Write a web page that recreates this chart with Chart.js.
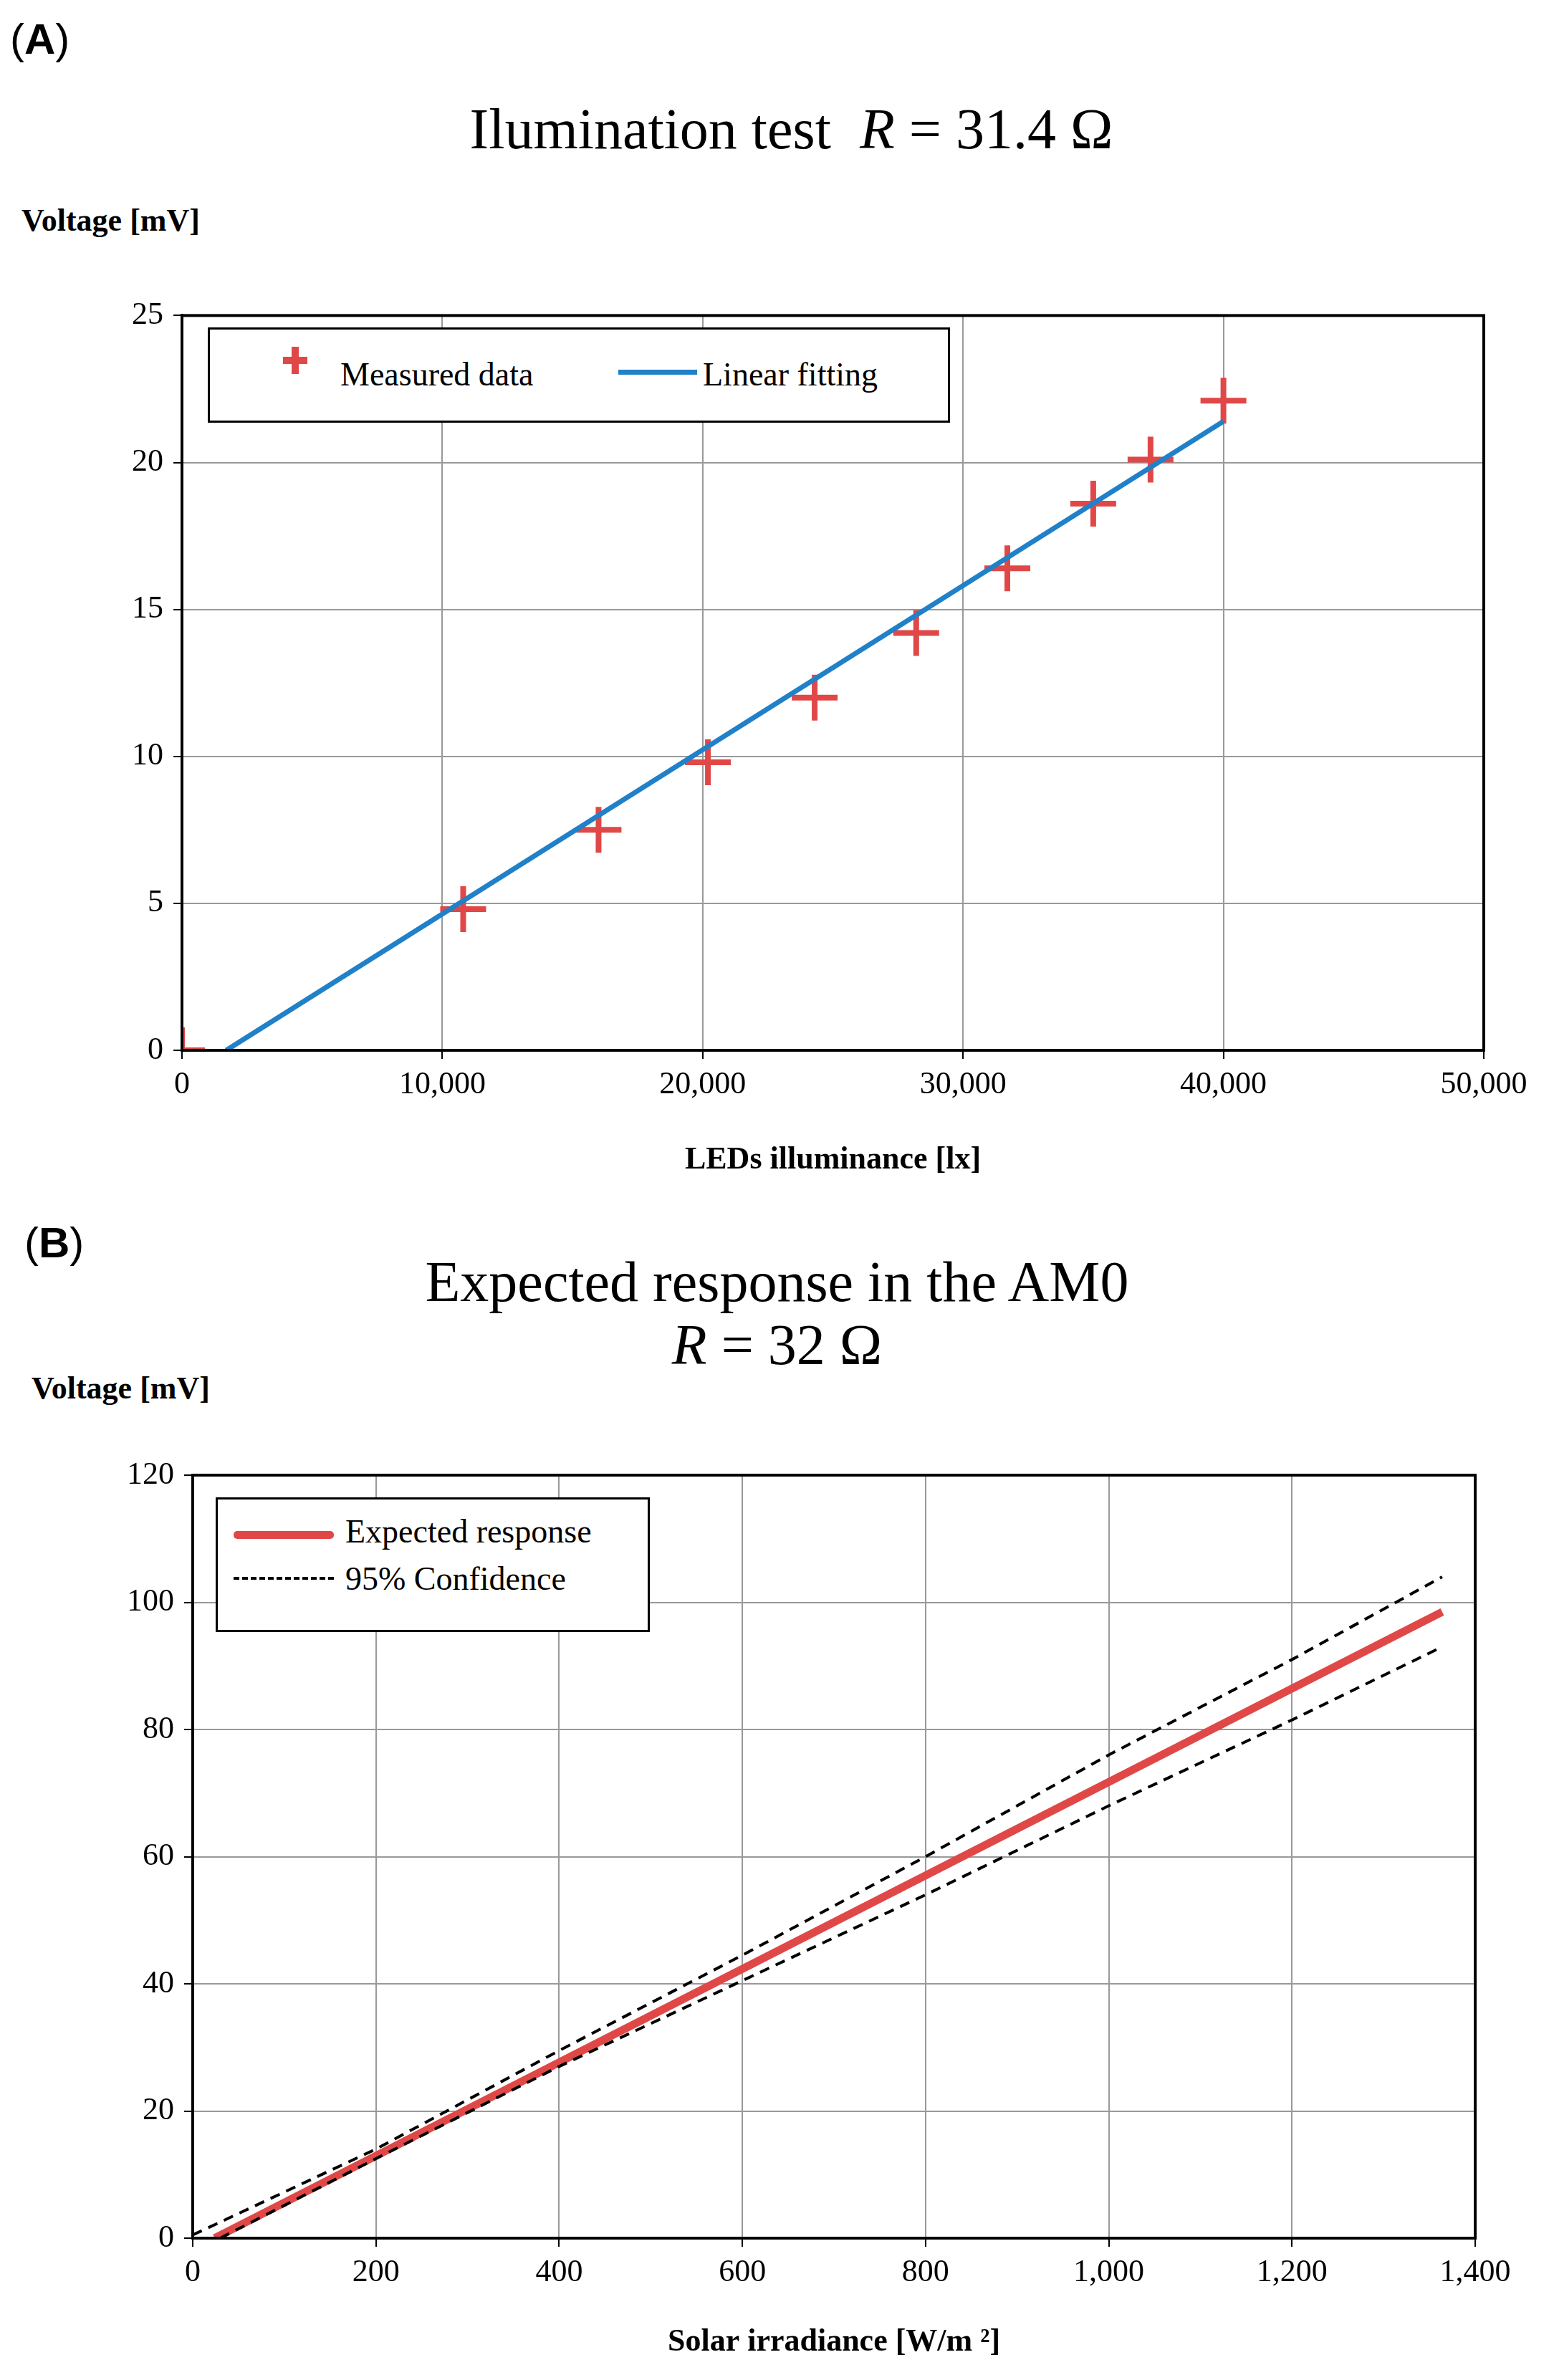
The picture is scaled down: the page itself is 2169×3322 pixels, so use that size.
<!DOCTYPE html>
<html><head><meta charset="utf-8">
<script src="https://cdn.jsdelivr.net/npm/chart.js@4"></script>
<style>
body{margin:0;width:2169px;height:3322px;background:#fff;position:relative;font-family:"Liberation Serif",serif;}
.abs{position:absolute;}
.lab{font-family:"Liberation Sans",Arial,sans-serif;font-size:60px;}
.title{font-size:80px;text-align:center;width:2169px;left:0;}
.ylab{font-weight:bold;font-size:44px;}
.leg{border:3px solid #000;background:#fff;font-size:46px;}
</style></head><body>
<div class="abs lab" style="left:14px;top:20px">(<b>A</b>)</div>
<div class="abs title" style="top:135px;left:20px">Ilumination test &nbsp;<i>R</i> = 31.4 Ω</div>
<div class="abs ylab" style="left:30px;top:282px">Voltage [mV]</div>
<canvas id="a" class="abs" style="left:0;top:400px"></canvas>
<div class="abs leg" style="left:290px;top:457px;width:1030px;height:127px">
 <div class="abs" style="left:100px;top:40px;width:34px;height:10px;background:#e04848;top:38px;left:102px"></div>
 <div class="abs" style="left:114px;top:24px;width:10px;height:38px;background:#e04848"></div>
 <div class="abs" style="left:182px;top:36px">Measured data</div>
 <div class="abs" style="left:570px;top:56px;width:110px;height:7px;background:#2080c8"></div>
 <div class="abs" style="left:688px;top:36px">Linear fitting</div>
</div>
<div class="abs lab" style="left:34px;top:1700px">(<b>B</b>)</div>
<div class="abs title" style="top:1745px;line-height:88px">Expected response in the AM0<br><i>R</i> = 32 Ω</div>
<div class="abs ylab" style="left:44px;top:1912px">Voltage [mV]</div>
<canvas id="b" class="abs" style="left:0;top:1900px"></canvas>
<div class="abs leg" style="left:301px;top:2090px;width:600px;height:182px">
 <div class="abs" style="left:22px;top:44px;width:140px;height:11px;background:#e04848;border-radius:5px"></div>
 <div class="abs" style="left:178px;top:18px">Expected response</div>
 <div class="abs" style="left:22px;top:108px;width:140px;border-top:4px dashed #000"></div>
 <div class="abs" style="left:178px;top:84px">95% Confidence</div>
</div>
<script>
const measX=[0,10800,16000,20200,24300,28200,31700,35000,37200,40000];
const measY=[0,4.8,7.5,9.8,12.0,14.2,16.4,18.6,20.1,22.1];
const fitX=[1700,40000];
const fitY=[0,21.4];
const expX=[24,1364];
const expY=[0,98.5];
const upX=[0,200,400,600,800,1000,1200,1364];
const upY=[0.5,14,29.5,44.5,60,76,91,104];
const loX=[30,200,400,600,800,1000,1200,1364];
const loY=[0,12.5,27,40.5,54,68,81.5,93];
const pts=(xs,ys)=>xs.map((x,i)=>({x:x,y:ys[i]}));
const F="Liberation Serif";
function mk(id,w,h,padTop,padRight,yW,xH,xmax,xstep,ymax,ystep,xTitle,ds){
 const c=document.getElementById(id);c.width=w;c.height=h;
 new Chart(c,{type:'scatter',data:{datasets:ds},options:{responsive:false,animation:false,
  layout:{padding:{top:padTop,right:padRight,left:0,bottom:0}},
  plugins:{legend:{display:false},tooltip:{enabled:false}},
  scales:{
   x:{type:'linear',min:0,max:xmax,ticks:{stepSize:xstep,color:'#000',font:{family:F,size:44},padding:10},
      grid:{color:'#999',lineWidth:2,tickLength:12,tickColor:'#000'},border:{color:'#000',width:4},
      title:{display:true,text:xTitle,color:'#000',font:{family:F,size:44,weight:'bold'},padding:{top:14}},
      afterFit:s=>{s.height=xH;}},
   y:{min:0,max:ymax,ticks:{stepSize:ystep,color:'#000',font:{family:F,size:44},padding:14},
      grid:{color:'#999',lineWidth:2,tickLength:12,tickColor:'#000'},border:{color:'#000',width:4},
      afterFit:s=>{s.width=yW;}}
  }},
  plugins:[{id:'frame',afterDatasetsDraw(ch){const a=ch.chartArea,x=ch.ctx;x.save();x.strokeStyle='#000';x.lineWidth=4;x.strokeRect(a.left,a.top,a.right-a.left,a.bottom-a.top);x.restore();}}]
 });
}
mk('a',2169,1250,30,98,254,184,50000,10000,25,5,'LEDs illuminance [lx]',[
 {data:pts(fitX,fitY),showLine:true,borderColor:'#2080c8',borderWidth:7,pointRadius:0},
 {data:pts(measX,measY),pointStyle:'cross',pointRadius:32,borderColor:'#e04848',borderWidth:8,backgroundColor:'#e04848'}
]);
mk('b',2169,1400,159,110,269,176,1400,200,120,20,'Solar irradiance [W/m ²]',[
 {data:pts(upX,upY),showLine:true,borderColor:'#000',borderWidth:4,borderDash:[14,10],pointRadius:0},
 {data:pts(loX,loY),showLine:true,borderColor:'#000',borderWidth:4,borderDash:[14,10],pointRadius:0},
 {data:pts(expX,expY),showLine:true,borderColor:'#e04848',borderWidth:11,pointRadius:0}
]);
</script>
</body></html>
